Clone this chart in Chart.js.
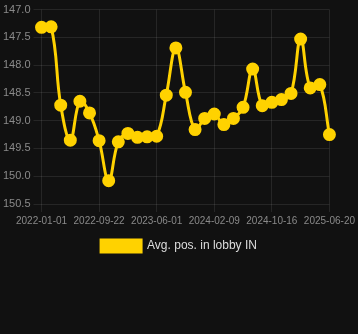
<!DOCTYPE html>
<html>
<head>
<meta charset="utf-8">
<script src="https://cdn.jsdelivr.net/npm/chart.js@4"></script>
<style>
  html, body { margin: 0; padding: 0; background: #111111; }
  #wrap { position: relative; width: 358px; height: 262px; }
</style>
</head>
<body>
<div id="wrap"><canvas id="c"></canvas></div>
<script>
const categories = [
  "2022-01-01","2022-02-14","2022-03-30","2022-05-13","2022-06-26","2022-08-09",
  "2022-09-22","2022-11-03","2022-12-15","2023-01-26","2023-03-09","2023-04-20",
  "2023-06-01","2023-07-13","2023-08-24","2023-10-05","2023-11-16","2023-12-28",
  "2024-02-09","2024-03-22","2024-05-03","2024-06-14","2024-07-26","2024-09-06",
  "2024-10-16","2024-11-26","2025-01-06","2025-02-16","2025-03-29","2025-05-09",
  "2025-06-20"
];
const avgPos = [
  147.32, 147.31, 148.72, 149.35, 148.65, 148.86,
  149.36, 150.08, 149.38, 149.23, 149.30, 149.29,
  149.28, 148.54, 147.69, 148.49, 149.16, 148.96,
  148.88, 149.07, 148.96, 148.76, 148.07, 148.73,
  148.67, 148.62, 148.51, 147.53, 148.41, 148.35,
  149.25
];
const seriesName = "Avg. pos. in lobby IN";
const yTicks = [147.0, 147.5, 148.0, 148.5, 149.0, 149.5, 150.0, 150.5];

const yellow = "#FFD200";
const gridColor = "rgba(255,255,255,0.09)";
const tickColor = "#8a8a8a";

new Chart(document.getElementById("c"), {
  type: "line",
  data: {
    labels: categories,
    datasets: [{
      label: seriesName,
      data: avgPos,
      borderColor: yellow,
      backgroundColor: yellow,
      pointBackgroundColor: yellow,
      pointBorderColor: yellow,
      pointRadius: 5,
      pointHoverRadius: 5,
      borderWidth: 3,
      tension: 0.4,
      fill: false
    }]
  },
  options: {
    responsive: true,
    maintainAspectRatio: false,
    animation: false,
    plugins: {
      legend: {
        position: "bottom",
        labels: {
          color: "#dddddd",
          font: { family: "'Liberation Sans', Arial, sans-serif", size: 12 },
          boxWidth: 40,
          boxHeight: 12
        }
      },
      tooltip: { enabled: false }
    },
    scales: {
      x: {
        grid: { color: gridColor },
        border: { display: false },
        ticks: {
          color: tickColor,
          maxRotation: 0,
          autoSkip: true,
          maxTicksLimit: 6,
          font: { family: "'Liberation Sans', Arial, sans-serif", size: 10 }
        }
      },
      y: {
        reverse: true,
        min: yTicks[0],
        max: yTicks[yTicks.length - 1],
        afterBuildTicks: (axis) => { axis.ticks = yTicks.map(v => ({ value: v })); },
        grid: { color: gridColor },
        border: { display: false },
        ticks: {
          color: tickColor,
          font: { family: "'Liberation Sans', Arial, sans-serif", size: 11 },
          callback: (v) => Number(v).toFixed(1)
        }
      }
    }
  }
});
</script>
</body>
</html>
